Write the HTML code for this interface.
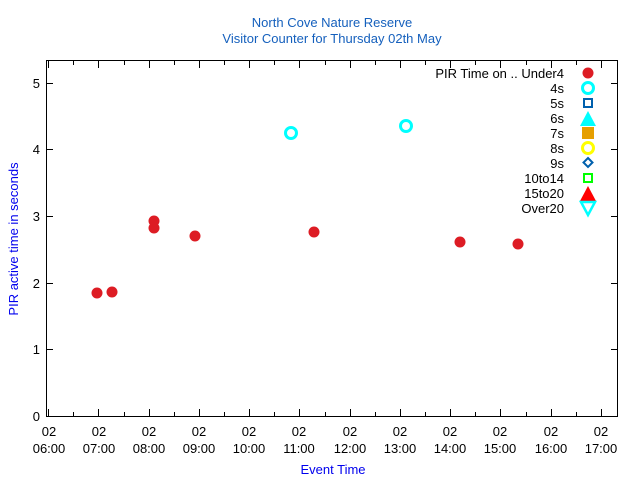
<!DOCTYPE html><html><head><style>body{margin:0;background:#fff}svg{display:block;font-family:"Liberation Sans",sans-serif}</style></head><body>
<svg width="640" height="480" viewBox="0 0 640 480">
<rect width="640" height="480" fill="#fff"/>
<text x="332" y="27" font-size="13" fill="#1560bd" text-anchor="middle">North Cove Nature Reserve</text>
<text x="332" y="43" font-size="13" fill="#1560bd" text-anchor="middle">Visitor Counter for Thursday 02th May</text>
<rect x="46.5" y="60.5" width="571" height="356" fill="none" stroke="#000" stroke-width="1"/>
<g stroke="#000" stroke-width="1">
<path d="M47 416.5h6M47 349.5h6M47 283.5h6M47 216.5h6M47 149.5h6M47 83.5h6M617 416.5h-6M617 349.5h-6M617 283.5h-6M617 216.5h-6M617 149.5h-6M617 83.5h-6"/>
<path d="M48.5 416v-7M98.5 416v-7M149.5 416v-7M199.5 416v-7M249.5 416v-7M299.5 416v-7M350.5 416v-7M400.5 416v-7M450.5 416v-7M500.5 416v-7M551.5 416v-7M601.5 416v-7M48.5 61v7M98.5 61v7M149.5 61v7M199.5 61v7M249.5 61v7M299.5 61v7M350.5 61v7M400.5 61v7M450.5 61v7M500.5 61v7M551.5 61v7M601.5 61v7"/>
<path d="M73.5 416v-4M124.5 416v-4M174.5 416v-4M224.5 416v-4M274.5 416v-4M325.5 416v-4M375.5 416v-4M425.5 416v-4M475.5 416v-4M526.5 416v-4M576.5 416v-4M73.5 61v4M124.5 61v4M174.5 61v4M224.5 61v4M274.5 61v4M325.5 61v4M375.5 61v4M425.5 61v4M475.5 61v4M526.5 61v4M576.5 61v4"/>
</g>
<g font-size="13" fill="#000" text-anchor="end">
<text x="40" y="421">0</text><text x="40" y="354">1</text><text x="40" y="288">2</text><text x="40" y="221">3</text><text x="40" y="154">4</text><text x="40" y="88">5</text>
</g>
<g font-size="13" fill="#000" text-anchor="middle">
<text x="49" y="436">02</text><text x="49" y="453">06:00</text>
<text x="99" y="436">02</text><text x="99" y="453">07:00</text>
<text x="149" y="436">02</text><text x="149" y="453">08:00</text>
<text x="199" y="436">02</text><text x="199" y="453">09:00</text>
<text x="249" y="436">02</text><text x="249" y="453">10:00</text>
<text x="299" y="436">02</text><text x="299" y="453">11:00</text>
<text x="350" y="436">02</text><text x="350" y="453">12:00</text>
<text x="400" y="436">02</text><text x="400" y="453">13:00</text>
<text x="450" y="436">02</text><text x="450" y="453">14:00</text>
<text x="500" y="436">02</text><text x="500" y="453">15:00</text>
<text x="551" y="436">02</text><text x="551" y="453">16:00</text>
<text x="601" y="436">02</text><text x="601" y="453">17:00</text>
</g>
<text x="333" y="474" font-size="13" fill="#0000ee" text-anchor="middle">Event Time</text>
<text transform="translate(18,239) rotate(-90)" font-size="13" fill="#0000ee" text-anchor="middle">PIR active time in seconds</text>
<g fill="#dd1c24">
<circle cx="97" cy="293" r="5.5"/><circle cx="112" cy="292" r="5.5"/><circle cx="154" cy="221" r="5.5"/><circle cx="154" cy="228" r="5.5"/><circle cx="195" cy="236" r="5.5"/><circle cx="314" cy="232" r="5.5"/><circle cx="460" cy="242" r="5.5"/><circle cx="518" cy="244" r="5.5"/>
</g>
<g fill="none" stroke="#00ffff" stroke-width="3">
<circle cx="291" cy="133" r="5.5"/><circle cx="406" cy="126" r="5.5"/>
</g>
<g font-size="13" fill="#000" text-anchor="end">
<text x="564" y="78">PIR Time on .. Under4</text><text x="564" y="93">4s</text><text x="564" y="108">5s</text><text x="564" y="123">6s</text><text x="564" y="138">7s</text><text x="564" y="153">8s</text><text x="564" y="168">9s</text><text x="564" y="183">10to14</text><text x="564" y="198">15to20</text><text x="564" y="213">Over20</text>
</g>
<circle cx="588" cy="73" r="5.5" fill="#dd1c24"/>
<circle cx="588" cy="88" r="5.5" fill="none" stroke="#00ffff" stroke-width="3"/>
<rect x="584" y="99" width="8" height="8" fill="none" stroke="#0060ad" stroke-width="2"/>
<path d="M580 126L588 111L596 126Z" fill="#00ffff"/>
<rect x="582" y="127" width="12" height="12" fill="#e69f00"/>
<circle cx="588" cy="148" r="5.5" fill="none" stroke="#ffff00" stroke-width="3"/>
<path d="M588 158L592.5 162.5L588 167L583.5 162.5Z" fill="none" stroke="#0060ad" stroke-width="2"/>
<rect x="584" y="174" width="8" height="8" fill="none" stroke="#00ff00" stroke-width="2"/>
<path d="M580 201L588 186L596 201Z" fill="#ff0000"/>
<path d="M581 202L588 215L595 202Z" fill="none" stroke="#00ffff" stroke-width="2.5"/>
</svg></body></html>
